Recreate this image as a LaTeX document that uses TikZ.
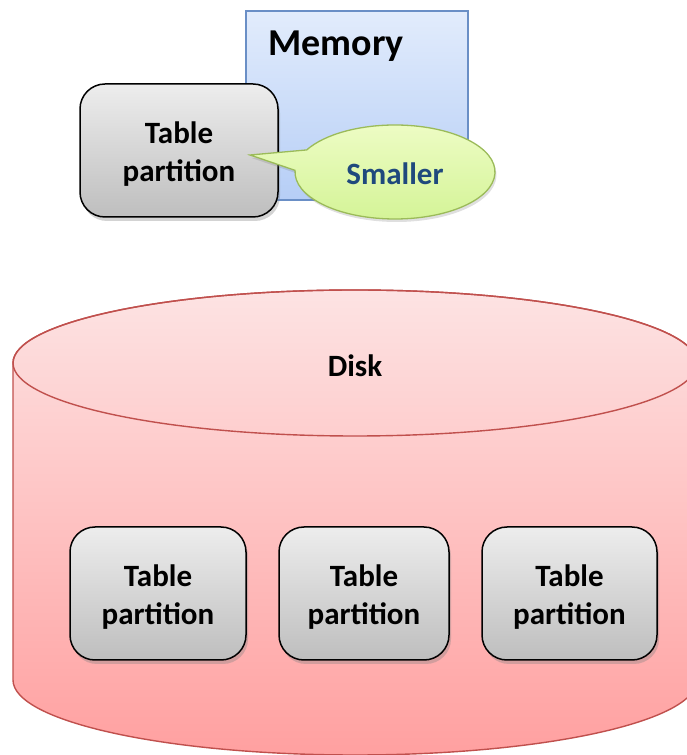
\documentclass[tikz,border=0pt]{standalone}
\usepackage{fontspec}
\setmainfont{Carlito}
\usetikzlibrary{shadows}
\definecolor{memborder}{HTML}{6A8FC6}
\definecolor{memtop}{HTML}{E2ECFC}
\definecolor{membot}{HTML}{B6CEF6}
\definecolor{tptop}{HTML}{EDEDED}
\definecolor{tpbot}{HTML}{BEBEBE}
\definecolor{calltop}{HTML}{EDFCC4}
\definecolor{callbot}{HTML}{D4F497}
\definecolor{callborder}{HTML}{9BBB59}
\definecolor{calltext}{HTML}{1F497D}
\definecolor{diskborder}{HTML}{C0504D}
\definecolor{disktop}{HTML}{FDE3E3}
\definecolor{diskbot}{HTML}{FFA0A0}
\tikzset{
  txt/.style={font=\bfseries\fontsize{31}{38}\selectfont, align=center},
  tpbox/.style={draw=black, line width=1.5pt, rounded corners=25pt,
    top color=tptop, bottom color=tpbot, minimum height=133pt, inner sep=0pt,
    drop shadow={shadow xshift=2pt, shadow yshift=-4pt, opacity=0.35}},
}
\begin{document}
\begin{tikzpicture}[x=1pt,y=1pt]
\useasboundingbox (0,0) rectangle (687,755);
% Disk cylinder
\path[draw=diskborder, line width=1.4pt, top color=disktop, bottom color=diskbot]
  (13,392) -- (13,75) arc[start angle=180, end angle=360, x radius=342, y radius=75]
  -- (697,392) arc[start angle=0, end angle=180, x radius=342, y radius=73] -- cycle;
\draw[diskborder, line width=1.4pt] (355,392) ellipse[x radius=342, y radius=73];
\node[txt] (disk) at (355,389) {Disk};
% Memory box
\node[draw=memborder, line width=1.3pt, top color=memtop, bottom color=membot,
  minimum width=222pt, minimum height=189pt, inner sep=0pt] (mem) at (357,649.5) {};
\node[font=\bfseries\fontsize{38}{42}\selectfont, anchor=base west] (memlbl) at (265,699) {Memory};
% Top table partition
\node[tpbox, minimum width=198pt] (tp0) at (179,604.5) {};
\node[txt] (tp0t) at ([yshift=-4pt]tp0.center) {Table\\partition};
% Callout
\path[draw=callborder, line width=1.3pt, top color=calltop, bottom color=callbot,
  drop shadow={shadow xshift=1.5pt, shadow yshift=-3pt, opacity=0.25}]
  (395,583) ++(178:100pt and 47pt)
  arc[start angle=178, end angle=512, x radius=100, y radius=47]
  -- (250,600) -- cycle;
\node[txt, text=calltext] (smaller) at (395,581) {Smaller};
% Bottom partitions
\node[tpbox, minimum width=176pt] (tp1) at (158,161.5) {};
\node[tpbox, minimum width=170pt] (tp2) at (364,161.5) {};
\node[tpbox, minimum width=175pt] (tp3) at (569.5,161.5) {};
\node[txt] (tp1t) at ([yshift=-4pt]tp1.center) {Table\\partition};
\node[txt] (tp2t) at ([yshift=-4pt]tp2.center) {Table\\partition};
\node[txt] (tp3t) at ([yshift=-4pt]tp3.center) {Table\\partition};
\end{tikzpicture}
\end{document}
